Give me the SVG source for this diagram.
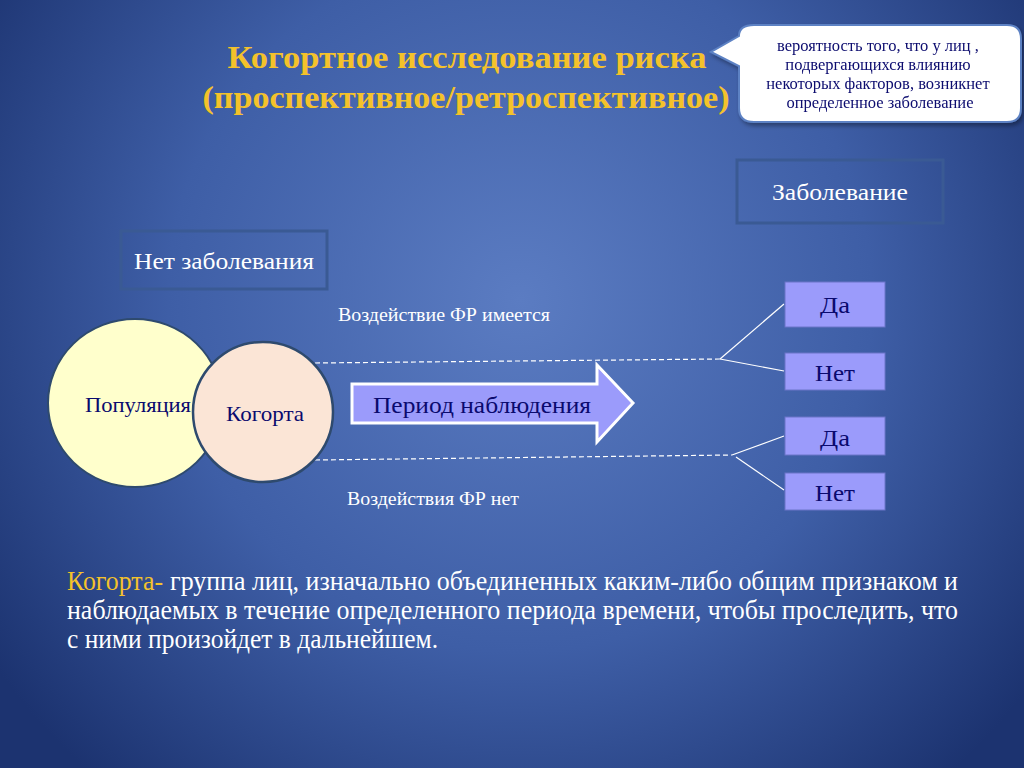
<svg xmlns="http://www.w3.org/2000/svg" width="1024" height="768" viewBox="0 0 1024 768">
  <defs>
    <radialGradient id="bg" cx="520" cy="300" r="640" gradientUnits="userSpaceOnUse">
      <stop offset="0" stop-color="#5b7cc2"/>
      <stop offset="0.55" stop-color="#3e5ea6"/>
      <stop offset="1" stop-color="#1c3370"/>
    </radialGradient>
    <filter id="sh" x="-10%" y="-10%" width="130%" height="130%">
      <feDropShadow dx="2" dy="3" stdDeviation="2" flood-color="#000" flood-opacity="0.35"/>
    </filter>
  </defs>
  <style>
    .t { font-family: "Liberation Serif", "Times New Roman", serif; }
    .title { font-weight: bold; fill: #f4c22b; font-size: 31px; }
    .white { fill: #ffffff; }
    .gold { fill: #f4c22b; }
    .navy { fill: #0a0a6e; }
    .frame { fill: none; stroke: #3a5a94; stroke-width: 3; }
    .res { fill: #9b9bfb; stroke: #6b74c8; stroke-width: 1; }
    .dash { stroke: #ffffff; stroke-width: 1.2; stroke-dasharray: 5 3; fill: none; }
    .solid { stroke: #ffffff; stroke-width: 1.2; fill: none; }
  </style>

  <rect x="0" y="0" width="1024" height="768" fill="url(#bg)"/>

  <g id="title">
    <text class="t title" x="467" y="68" text-anchor="middle" textLength="479" lengthAdjust="spacingAndGlyphs">Когортное исследование  риска</text>
    <text class="t title" x="466" y="108" text-anchor="middle" textLength="527" lengthAdjust="spacingAndGlyphs">(проспективное/ретроспективное)</text>
  </g>

  <g id="callout" filter="url(#sh)">
    <path d="M754,25 H1007 Q1021,25 1021,39 V108 Q1021,122 1007,122 H754 Q739,122 739,108 V66 L711,52 L739,36 Q739,25 754,25 Z" fill="#ffffff" stroke="#5d82c4" stroke-width="2"/>
    <text class="t navy" font-size="16.5" text-anchor="middle">
      <tspan x="880" y="51">вероятность того, что у лиц ,</tspan>
      <tspan x="880" y="70">подвергающихся влиянию</tspan>
      <tspan x="880" y="89">некоторых факторов, возникнет</tspan>
      <tspan x="880" y="108">определенное заболевание</tspan>
    </text>
  </g>

  <g id="zabolevanie">
    <rect class="frame" x="737" y="160" width="206" height="63"/>
    <text class="t white" x="840" y="200" font-size="23" text-anchor="middle" textLength="136" lengthAdjust="spacingAndGlyphs">Заболевание</text>
  </g>

  <g id="net-zabolevaniya">
    <rect class="frame" x="121" y="231" width="206" height="58"/>
    <text class="t white" x="224" y="269" font-size="23" text-anchor="middle" textLength="180" lengthAdjust="spacingAndGlyphs">Нет заболевания</text>
  </g>

  <g id="label-fr-yes">
    <text class="t white" x="444" y="321" font-size="18" text-anchor="middle" textLength="212" lengthAdjust="spacingAndGlyphs">Воздействие ФР имеется</text>
  </g>
  <g id="label-fr-no">
    <text class="t white" x="433" y="505" font-size="18" text-anchor="middle" textLength="172" lengthAdjust="spacingAndGlyphs">Воздействия ФР нет</text>
  </g>

  <g id="connectors">
    <path class="dash" d="M315,363 L720,359"/>
    <path class="solid" d="M720,359 L784,304"/>
    <path class="solid" d="M720,359 L784,371"/>
    <path class="dash" d="M315,460 L732,455"/>
    <path class="solid" d="M732,455 L784,436"/>
    <path class="solid" d="M736,457 L784,490"/>
  </g>

  <g id="populyaciya">
    <ellipse cx="135" cy="403" rx="87" ry="84" fill="#ffffcc" stroke="#2e4a6e" stroke-width="2"/>
    <text class="t navy" x="138" y="412" font-size="20" text-anchor="middle" textLength="106" lengthAdjust="spacingAndGlyphs">Популяция</text>
  </g>

  <g id="kogorta">
    <circle cx="263" cy="412" r="70" fill="#fbe5d6" stroke="#2e4a6e" stroke-width="2.5"/>
    <text class="t navy" x="265" y="421" font-size="22" text-anchor="middle" textLength="78" lengthAdjust="spacingAndGlyphs">Когорта</text>
  </g>

  <g id="period">
    <path d="M352,384 H597 V365 L633,403 L597,442 V423 H352 Z" fill="#9b9bfb" stroke="#ffffff" stroke-width="3" stroke-linejoin="miter"/>
    <text class="t navy" x="482" y="413" font-size="24" text-anchor="middle" textLength="218" lengthAdjust="spacingAndGlyphs">Период наблюдения</text>
  </g>

  <g id="da1">
    <rect class="res" x="785" y="282" width="100" height="45"/>
    <text class="t navy" x="835" y="313" font-size="24" text-anchor="middle" textLength="30" lengthAdjust="spacingAndGlyphs">Да</text>
  </g>
  <g id="net1">
    <rect class="res" x="785" y="353" width="100" height="37"/>
    <text class="t navy" x="835" y="381" font-size="24" text-anchor="middle" textLength="40" lengthAdjust="spacingAndGlyphs">Нет</text>
  </g>
  <g id="da2">
    <rect class="res" x="785" y="417" width="100" height="38"/>
    <text class="t navy" x="835" y="446" font-size="24" text-anchor="middle" textLength="30" lengthAdjust="spacingAndGlyphs">Да</text>
  </g>
  <g id="net2">
    <rect class="res" x="785" y="473" width="100" height="37"/>
    <text class="t navy" x="835" y="501" font-size="24" text-anchor="middle" textLength="40" lengthAdjust="spacingAndGlyphs">Нет</text>
  </g>

  <g id="definition">
    <text class="t gold" font-size="27" x="67" y="590" textLength="96" lengthAdjust="spacingAndGlyphs">Когорта-</text>
    <text class="t white" font-size="27" x="170" y="590" textLength="788" lengthAdjust="spacingAndGlyphs">группа лиц, изначально объединенных каким-либо общим признаком и</text>
    <text class="t white" font-size="27" x="67" y="619" textLength="891" lengthAdjust="spacingAndGlyphs">наблюдаемых в течение определенного периода времени, чтобы проследить, что</text>
    <text class="t white" font-size="27" x="67" y="648" textLength="371" lengthAdjust="spacingAndGlyphs">с ними произойдет в дальнейшем.</text>
  </g>
</svg>
